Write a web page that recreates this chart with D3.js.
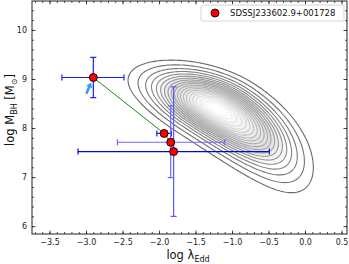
<!DOCTYPE html>
<html>
<head>
  <meta charset="UTF-8">
  <style>
    body { margin: 0; background: #fff; }
    svg { display: block; font-family: "DejaVu Sans", sans-serif; }
  </style>
</head>
<body>
<svg></svg>
<script src="https://d3js.org/d3.v7.min.js"></script>
<script>

let width = 349, height = 264;
let pLeft = 32, pRight = 347, pTop = 1, pBottom = 234;

// points: log lambda_Edd, log M_BH with asymmetric error ends
const lamEdd = [-2.90, -1.93, -1.84, -1.80];
const logM   = [9.03, 7.89, 7.71, 7.52];
const lamLo  = [-3.33, -2.03, -2.57, -3.11];
const lamHi  = [-2.48, -1.83, -1.10, -0.49];
const mLo    = [8.62, 7.84, 6.99, 6.20];
const mHi    = [9.44, 7.95, 8.45, 8.84];

// arrow (tail -> head), in data units
const arrowFrom = [-2.99, 8.72];
const arrowTo   = [-2.93, 8.93];

// background sample density, described by its shape
const densityCenter = [-0.98, 8.16];
const densityAxis = [0.676, -0.737];          // long axis direction
const densitySigma = [0.56, 0.85, 0.30];       // long axis (upper-left side, lower-right side), short axis
const densityPeakShift = -0.35;                // peak position along the long axis
const densityBend = 0.088;                     // banana bend
const contourLevels = [0.056, 0.1, 0.15, 0.2, 0.25, 0.3, 0.35, 0.4, 0.45, 0.5,
                       0.55, 0.6, 0.65, 0.7, 0.75, 0.8, 0.85, 0.9, 0.94, 0.97];

const xTicks = [-3.5, -3.0, -2.5, -2.0, -1.5, -1.0, -0.5, 0.0, 0.5];
const yTicks = [6, 7, 8, 9, 10];
const legendLabel = "SDSSJ233602.9+001728";

let xerrColor = ["#1c1cff", "#2020f0", "#6a6aff", "#0606cc"];
let yerrColor = ["#1c1cff", "#2020f0", "#6a6aff", "#5a5aff"];

let svg = d3.select("svg")
    .attr("width", width)
    .attr("height", height)
    .attr("viewBox", "0 0 " + width + " " + height);

let x = d3.scaleLinear().domain([-3.74, 0.575]).range([pLeft, pRight]);
let y = d3.scaleLinear().domain([5.84, 10.59]).range([pBottom, pTop]);

// --- contours
let step = 1.5;
let nx = Math.ceil((pRight - pLeft) / step), ny = Math.ceil((pBottom - pTop) / step);
let grid = new Array(nx * ny);
let e1 = densityAxis, e2 = [-densityAxis[1], densityAxis[0]];
for (let j = 0; j < ny; j++) {
    for (let i = 0; i < nx; i++) {
        let rx = x.invert(pLeft + (i + 0.5) * step) - densityCenter[0];
        let ry = y.invert(pTop + (j + 0.5) * step) - densityCenter[1];
        let u = rx * e1[0] + ry * e1[1];
        let w = rx * e2[0] + ry * e2[1] + densityBend * u * u;
        let su = u < densityPeakShift ? densitySigma[0] : densitySigma[1];
        let du = (u - densityPeakShift) / su, dw = w / densitySigma[2];
        grid[i + j * nx] = Math.exp(-0.5 * (du * du + dw * dw));
    }
}
let contours = d3.contours().size([nx, ny]).thresholds(contourLevels)(grid);
let path = d3.geoPath(d3.geoIdentity().scale(step).translate([pLeft, pTop]));
let nLev = contourLevels.length;
let lineGrey = d3.scaleLinear().domain([0, 4, 12, nLev - 1]).range(["#6a6a6a", "#8a8a8a", "#b8b8b8", "#f6f6f6"]);
let fillGrey = d3.scaleLinear().domain([0, 3, 8, nLev - 1]).range(["#ffffff", "#ffffff", "#dedede", "#ffffff"]);

svg.append("g")
    .attr("id", "contours")
    .selectAll("path")
    .data(contours)
    .enter()
    .append("path")
    .attr("d", path)
    .attr("fill", (d, i) => fillGrey(i))
    .attr("stroke", (d, i) => lineGrey(i))
    .attr("stroke-width", 1.1);

// --- connecting line
svg.append("path")
    .datum(lamEdd.map((v, i) => [v, logM[i]]))
    .attr("d", d3.line().x(d => x(d[0])).y(d => y(d[1])))
    .attr("fill", "none")
    .attr("stroke", "#1a8c1a")
    .attr("stroke-width", 1);

// --- error bars
let cap = 3;
let eb = svg.append("g").attr("id", "errorbars")
    .selectAll("g")
    .data(lamEdd.map((v, i) => i))
    .enter()
    .append("g")
    .attr("stroke-width", 1.2)
    .attr("fill", "none");

eb.each(function(i) {
    let g = d3.select(this);
    let cx = x(lamEdd[i]), cy = y(logM[i]);
    g.append("path")
        .attr("stroke", xerrColor[i])
        .attr("d", "M" + x(lamLo[i]) + "," + cy + "H" + x(lamHi[i]) +
            "M" + x(lamLo[i]) + "," + (cy - cap) + "V" + (cy + cap) +
            "M" + x(lamHi[i]) + "," + (cy - cap) + "V" + (cy + cap));
    g.append("path")
        .attr("stroke", yerrColor[i])
        .attr("d", "M" + cx + "," + y(mLo[i]) + "V" + y(mHi[i]) +
            "M" + (cx - cap) + "," + y(mLo[i]) + "H" + (cx + cap) +
            "M" + (cx - cap) + "," + y(mHi[i]) + "H" + (cx + cap));
});

// --- arrow
let ax0 = x(arrowFrom[0]), ay0 = y(arrowFrom[1]), ax1 = x(arrowTo[0]), ay1 = y(arrowTo[1]);
let ang = Math.atan2(ay1 - ay0, ax1 - ax0);
let hl = 5, hw = 3.2;
let bx = ax1 - hl * Math.cos(ang), by = ay1 - hl * Math.sin(ang);
svg.append("line")
    .attr("x1", ax0).attr("y1", ay0).attr("x2", bx).attr("y2", by)
    .attr("stroke", "#3399ff").attr("stroke-width", 2.6).attr("stroke-linecap", "round");
svg.append("path")
    .attr("d", "M" + ax1 + "," + ay1 +
        "L" + (bx + hw * Math.sin(ang)) + "," + (by - hw * Math.cos(ang)) +
        "L" + (bx - hw * Math.sin(ang)) + "," + (by + hw * Math.cos(ang)) + "Z")
    .attr("fill", "#3399ff");

// --- markers
svg.append("g")
    .selectAll("circle")
    .data(lamEdd.map((v, i) => i))
    .enter()
    .append("circle")
    .attr("cx", i => x(lamEdd[i]))
    .attr("cy", i => y(logM[i]))
    .attr("r", 4)
    .attr("fill", "#ff0000")
    .attr("stroke", "#000")
    .attr("stroke-width", 0.9);

// --- axes (ticks inside, all four sides)
let fmt = d => d3.format(".1f")(d).replace("-", "\u2212");
let minorX = d3.range(-37, 6).map(d => d / 10);
let minorY = d3.range(30, 53).map(d => d / 5);
svg.append("g")
    .attr("transform", "translate(0," + pBottom + ")")
    .call(d3.axisBottom(x).tickValues(minorX).tickSize(-2).tickFormat(""));
svg.append("g")
    .attr("transform", "translate(0," + pBottom + ")")
    .call(d3.axisBottom(x).tickValues(xTicks).tickSize(-3.5).tickPadding(5).tickFormat(fmt));
svg.append("g")
    .attr("transform", "translate(0," + pTop + ")")
    .call(d3.axisTop(x).tickValues(minorX).tickSize(-2).tickFormat(""));
svg.append("g")
    .attr("transform", "translate(0," + pTop + ")")
    .call(d3.axisTop(x).tickValues(xTicks).tickSize(-3.5).tickFormat(""));
svg.append("g")
    .attr("transform", "translate(" + pLeft + ",0)")
    .call(d3.axisLeft(y).tickValues(minorY).tickSize(-2).tickFormat(""));
svg.append("g")
    .attr("transform", "translate(" + pLeft + ",0)")
    .call(d3.axisLeft(y).tickValues(yTicks).tickSize(-3.5).tickPadding(5).tickFormat(d3.format("d")));
svg.append("g")
    .attr("transform", "translate(" + pRight + ",0)")
    .call(d3.axisRight(y).tickValues(minorY).tickSize(-2).tickFormat(""));
svg.append("g")
    .attr("transform", "translate(" + pRight + ",0)")
    .call(d3.axisRight(y).tickValues(yTicks).tickSize(-3.5).tickFormat(""));

svg.selectAll(".domain").remove();
svg.selectAll(".tick line").attr("stroke", "#222").attr("stroke-width", 0.8);
svg.selectAll(".tick text")
    .attr("font-family", "DejaVu Sans")
    .attr("font-size", 8)
    .attr("fill", "#222");

svg.append("rect")
    .attr("x", pLeft).attr("y", pTop)
    .attr("width", pRight - pLeft).attr("height", pBottom - pTop)
    .attr("fill", "none").attr("stroke", "#222").attr("stroke-width", 1);

// --- axis labels
let xl = svg.append("text")
    .attr("x", 188).attr("y", 259)
    .attr("text-anchor", "middle")
    .attr("font-size", 11.5)
    .attr("fill", "#111");
xl.append("tspan").text("log \u03bb");
xl.append("tspan").attr("font-size", 8).attr("dy", 2.5).text("Edd");

let yl = svg.append("text")
    .attr("transform", "translate(14,110) rotate(-90)")
    .attr("text-anchor", "middle")
    .attr("font-size", 11.5)
    .attr("fill", "#111");
yl.append("tspan").text("log M");
yl.append("tspan").attr("font-size", 8).attr("dy", 2.5).text("BH");
yl.append("tspan").attr("dy", -2.5).text(" [M");
yl.append("tspan").attr("font-size", 8).attr("dy", 2.5).text("\u2299");
yl.append("tspan").attr("dy", -2.5).text("]");

// --- legend
let lg = svg.append("g").attr("id", "legend");
lg.append("rect")
    .attr("x", 201).attr("y", 5).attr("width", 143).attr("height", 16).attr("rx", 1.5)
    .attr("fill", "#fff").attr("stroke", "#ccc").attr("stroke-width", 0.8);
lg.append("circle")
    .attr("cx", 215).attr("cy", 13).attr("r", 4)
    .attr("fill", "#ff0000").attr("stroke", "#000").attr("stroke-width", 0.9);
lg.append("text")
    .attr("x", 230).attr("y", 16)
    .attr("font-size", 8.5)
    .attr("fill", "#111")
    .text(legendLabel);

</script>
</body>
</html>
